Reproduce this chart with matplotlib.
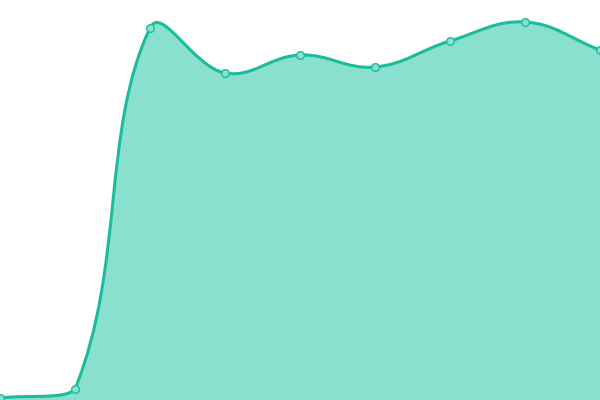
import numpy as np
import matplotlib
matplotlib.use("Agg")
import matplotlib.pyplot as plt
from matplotlib.path import Path
from matplotlib.patches import PathPatch

# values (0 = bottom of chart, 400 = top)
categories = list(range(9))
values = [2, 11, 372, 327, 345, 333, 359, 378, 350]

LINE = "#1abc9c"
FILL = "#8ae0cf"
TENSION = 0.4

fig = plt.figure(figsize=(6, 4), dpi=100)
ax = fig.add_axes([0, 0, 1, 1])
ax.set_xlim(0, 8)
ax.set_ylim(0, 400)
ax.axis("off")

# build a Chart.js style bezier spline in display space
pts = ax.transData.transform(np.column_stack([categories, values]))
bbox = ax.bbox
n = len(pts)


def cap(p):
    # keep control points inside the chart area, like Chart.js does
    return np.array([min(max(p[0], bbox.x0), bbox.x1),
                     min(max(p[1], bbox.y0), bbox.y1)])


cps = []
for i in range(n):
    prev = pts[max(i - 1, 0)]
    cur = pts[i]
    nxt = pts[min(i + 1, n - 1)]
    d01 = np.hypot(*(cur - prev))
    d12 = np.hypot(*(nxt - cur))
    tot = d01 + d12
    s01 = d01 / tot if tot else 0
    s12 = d12 / tot if tot else 0
    fa = TENSION * s01
    fb = TENSION * s12
    cps.append((cap(cur - fa * (nxt - prev)), cap(cur + fb * (nxt - prev))))

verts = [pts[0]]
codes = [Path.MOVETO]
for i in range(n - 1):
    verts += [cps[i][1], cps[i + 1][0], pts[i + 1]]
    codes += [Path.CURVE4] * 3

inv = ax.transData.inverted()
verts_d = inv.transform(np.array(verts))

line_path = Path(verts_d, codes)
fill_verts = list(verts_d) + [(categories[-1], 0), (categories[0], 0), verts_d[0]]
fill_codes = codes + [Path.LINETO, Path.LINETO, Path.CLOSEPOLY]
ax.add_patch(PathPatch(Path(fill_verts, fill_codes), facecolor=FILL, edgecolor="none"))
ax.add_patch(PathPatch(line_path, facecolor="none", edgecolor=LINE, linewidth=2.2,
                       capstyle="round", joinstyle="round"))

ax.plot(categories, values, linestyle="none", marker="o", markersize=5.5,
        markerfacecolor=FILL, markeredgecolor=LINE, markeredgewidth=1)

fig.savefig("out.png", dpi=100)
